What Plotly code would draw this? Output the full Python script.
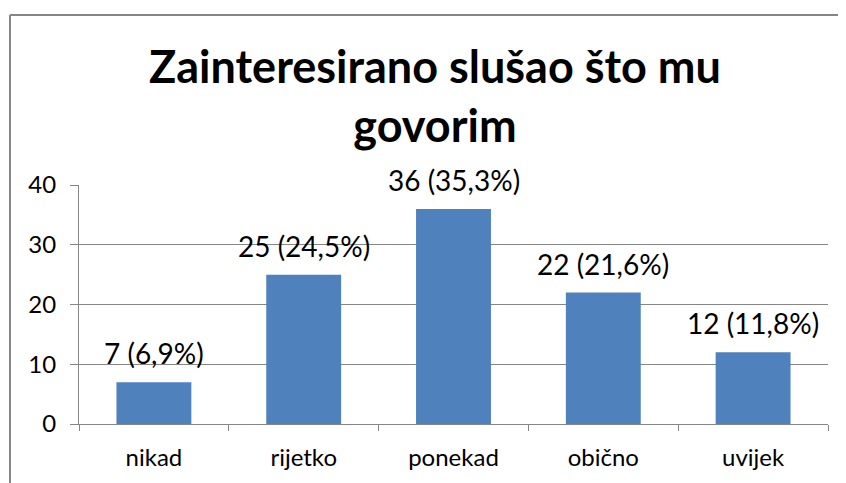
import plotly.graph_objects as go

# odgovori i broj ispitanika
kategorije = ["nikad", "rijetko", "ponekad", "obično", "uvijek"]
broj = [7, 25, 36, 22, 12]
postotak = ["6,9%", "24,5%", "35,3%", "21,6%", "11,8%"]
y_tickovi = [0, 10, 20, 30, 40]

oznake = [f"{b} ({p})" for b, p in zip(broj, postotak)]
font = "Lato, Calibri, sans-serif"

# stranica ima 8px margine, pa je sve pomaknuto za 8px
fig = go.Figure()
fig.add_trace(go.Bar(
    x=kategorije, y=broj,
    marker=dict(color="#4F81BD", line=dict(width=0)),
    width=0.5,
))

for k, b, o in zip(kategorije, broj, oznake):
    fig.add_annotation(x=k, y=b, text=o, showarrow=False, yanchor="bottom", yshift=10,
                       font=dict(size=28, color="black", family=font))

fig.update_layout(
    width=838, height=475,
    margin=dict(l=71, r=18, t=177, b=59, autoexpand=False),
    plot_bgcolor="white", paper_bgcolor="white",
    showlegend=False,
    font=dict(family=font, color="black"),
    title=dict(
        text="<b>Zainteresirano slušao što mu<br>govorim</b>",
        x=427 / 838, xanchor="center", xref="container",
        y=1 - 75 / 475, yanchor="top", yref="container",
        font=dict(size=45, family=font, color="black"),
    ),
)
fig.update_yaxes(
    range=[0, 40], tickvals=y_tickovi, showgrid=True, gridcolor="#868686", gridwidth=1,
    showline=True, linecolor="#868686", linewidth=1, ticks="outside", ticklen=8,
    tickcolor="#868686", tickfont=dict(size=24), zeroline=False, automargin=False,
    ticklabelstandoff=9,
)
fig.update_xaxes(
    showline=True, linecolor="#868686", linewidth=1, ticks="outside", ticklen=6,
    tickcolor="#868686", tickson="boundaries", tickfont=dict(size=24), automargin=False,
    ticklabelstandoff=12,
)

# okvir grafikona (samo lijevi i gornji rub su vidljivi)
lijevo = (2 - 71) / 749
vrh = 1 + (177 - 7) / 239
fig.add_shape(type="line", xref="paper", yref="paper", x0=lijevo, x1=lijevo, y0=-0.5, y1=vrh,
              line=dict(color="#868686", width=2))
fig.add_shape(type="line", xref="paper", yref="paper", x0=lijevo, x1=1.2, y0=vrh, y1=vrh,
              line=dict(color="#868686", width=2))

fig.write_html("out.html")
